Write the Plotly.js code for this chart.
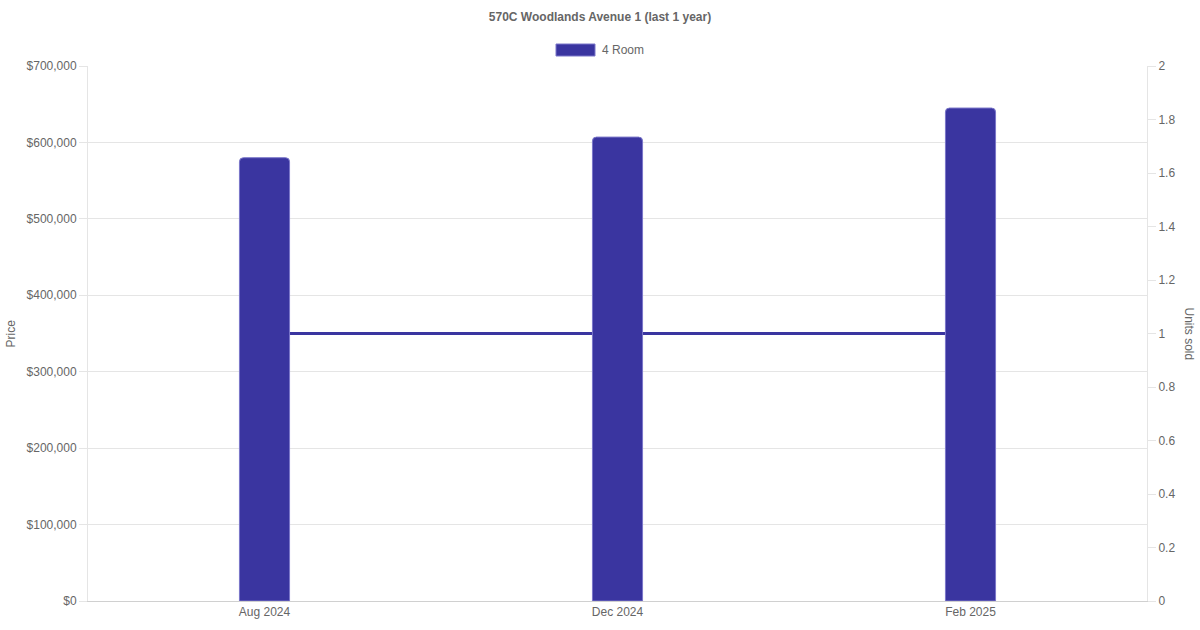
<!DOCTYPE html>
<html>
<head>
<meta charset="utf-8">
<script src="https://cdn.plot.ly/plotly-3.0.1.min.js"></script>
<style>
  html, body { margin: 0; padding: 0; background: #fff; }
  #plot { width: 1200px; height: 630px; }
</style>
</head>
<body>
<div id="plot"></div>
<script>
// Chart data
const months = ['Aug 2024', 'Dec 2024', 'Feb 2025'];
const prices = [580000, 607000, 645000];
const unitsSold = [1, 1, 1];
const seriesName = '4 Room';

const barColor = '#3a35a0';
const barEdge = '#7a76c9';
const textColor = '#666';
const gridColor = '#e5e5e5';
const fontFamily = '"Liberation Sans", Arial, sans-serif';

// plot area in pixels, used to place the hand-drawn legend
const plotLeft = 88, plotWidth = 1059, plotTop = 66, plotHeight = 535;
const px = x => (x - plotLeft) / plotWidth;
const py = y => 1 + (plotTop - y) / plotHeight;

// Units line (main y axis, drawn underneath the bars)
const lineTrace = {
    x: months,
    y: unitsSold,
    type: 'scatter',
    mode: 'lines',
    name: 'Units sold',
    yaxis: 'y',
    line: { color: barColor, width: 3 },
    showlegend: false,
    hoverinfo: 'skip'
};

// Price bars (overlaid axis so they sit on top of the line)
const barTrace = {
    x: months,
    y: prices,
    type: 'bar',
    name: seriesName,
    yaxis: 'y2',
    showlegend: false,
    marker: {
        color: barColor,
        cornerradius: 4,
        line: { color: barEdge, width: 1 }
    }
};

const layout = {
    width: 1200,
    height: 630,
    font: { family: fontFamily, size: 12, color: textColor },
    title: {
        text: '570C Woodlands Avenue 1 (last 1 year)',
        font: { family: fontFamily, size: 12, color: textColor, weight: 'bold' },
        x: 0.5,
        xanchor: 'center',
        y: 1 - 17 / 630,
        yanchor: 'middle'
    },
    margin: { l: 88, r: 53, t: 66, b: 29 },
    paper_bgcolor: 'white',
    plot_bgcolor: 'white',
    bargap: 0.858,
    showlegend: false,
    xaxis: {
        type: 'category',
        showgrid: false,
        showline: true,
        linecolor: '#d0d0d0',
        linewidth: 1,
        ticks: '',
        tickfont: { size: 12, color: textColor },
        zeroline: false
    },
    yaxis: {
        side: 'right',
        range: [0, 2],
        dtick: 0.2,
        showgrid: false,
        showline: true,
        linecolor: gridColor,
        ticks: 'outside',
        ticklen: 8,
        tickcolor: gridColor,
        tickfont: { size: 12, color: textColor },
        zeroline: false
    },
    yaxis2: {
        overlaying: 'y',
        side: 'left',
        range: [0, 700000],
        dtick: 100000,
        tickprefix: '$',
        tickformat: ',d',
        showgrid: true,
        gridcolor: gridColor,
        showline: true,
        linecolor: gridColor,
        ticks: 'outside',
        ticklen: 8,
        tickcolor: gridColor,
        tickfont: { size: 12, color: textColor },
        zeroline: false
    },
    // Chart.js-style legend: wide box plus label
    shapes: [
        {
            type: 'rect',
            xref: 'paper', yref: 'paper',
            x0: px(556), x1: px(595),
            y0: py(56), y1: py(44),
            fillcolor: barColor,
            line: { color: barEdge, width: 1 }
        }
    ],
    annotations: [
        {
            text: seriesName,
            xref: 'paper', yref: 'paper',
            x: px(600), y: py(50),
            xanchor: 'left', yanchor: 'middle',
            showarrow: false,
            font: { size: 12, color: textColor }
        },
        {
            text: 'Price',
            xref: 'paper', yref: 'paper',
            x: px(10), y: 0.5,
            xanchor: 'center', yanchor: 'middle',
            textangle: -90,
            showarrow: false,
            font: { size: 12, color: textColor }
        },
        {
            text: 'Units sold',
            xref: 'paper', yref: 'paper',
            x: px(1189), y: 0.5,
            xanchor: 'center', yanchor: 'middle',
            textangle: 90,
            showarrow: false,
            font: { size: 12, color: textColor }
        }
    ]
};

Plotly.newPlot('plot', [lineTrace, barTrace], layout, { displayModeBar: false, staticPlot: true });
</script>
</body>
</html>
